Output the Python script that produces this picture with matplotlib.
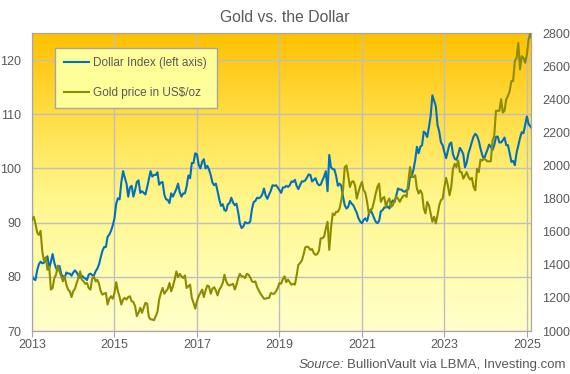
import numpy as np
import matplotlib.pyplot as plt
from matplotlib.colors import LinearSegmentedColormap

plt.rcParams['font.family'] = ['Liberation Sans', 'DejaVu Sans']

# semi-monthly readings, Jan 2013 (1st half) to Feb 2025 (2nd half)
start_year = 2013
dollar_index = [
    # 2013
    80.2, 79.6, 79.4, 81.2, 82.3, 82.8, 82.5, 82.6, 83.2, 83.8, 81.5, 82.8,
    84.2, 82.6, 81.6, 81.2, 82.0, 80.5, 80.1, 79.8, 80.8, 80.6, 80.6, 80.2,
    # 2014
    80.8, 81.2, 80.8, 80.2, 79.8, 80.2, 79.9, 79.7, 79.4, 80.4, 80.6, 80.3,
    80.2, 81.0, 81.5, 82.3, 83.6, 84.8, 85.5, 85.5, 87.4, 87.8, 88.5, 89.5,
    # 2015
    90.8, 93.5, 94.5, 94.3, 97.5, 99.5, 98.3, 97.2, 94.8, 96.5, 96.8, 94.8,
    96.0, 97.5, 97.8, 95.5, 95.8, 95.5, 95.2, 96.5, 98.0, 99.5, 98.5, 98.8,
    # 2016
    98.8, 99.3, 97.0, 97.4, 97.5, 95.2, 94.3, 94.2, 93.6, 95.4, 94.8, 95.5,
    96.2, 97.2, 95.6, 94.8, 95.4, 95.4, 96.7, 98.7, 98.2, 101.0, 101.0, 102.8,
    # 2017
    102.6, 100.7, 100.0, 101.2, 101.7, 100.0, 100.5, 99.8, 98.8, 97.4, 96.9, 97.2,
    95.8, 94.3, 93.1, 93.4, 92.3, 92.2, 93.4, 93.6, 94.6, 93.7, 93.2, 93.5,
    # 2018
    91.9, 89.8, 89.0, 89.3, 90.1, 89.9, 89.9, 90.2, 92.5, 93.8, 94.0, 94.6,
    94.5, 94.7, 95.2, 96.3, 95.0, 94.4, 95.2, 95.9, 96.9, 96.8, 96.9, 96.5,
    # 2019
    96.0, 95.5, 96.5, 96.5, 96.8, 96.6, 96.9, 97.6, 97.5, 97.9, 96.8, 96.2,
    96.9, 97.6, 97.6, 97.8, 98.3, 98.9, 98.8, 97.6, 97.9, 98.2, 97.3, 96.9,
    # 2020
    97.0, 97.8, 98.5, 99.5, 95.8, 102.5, 100.2, 99.9, 99.8, 98.6, 96.8, 97.2,
    96.8, 94.8, 93.2, 92.6, 92.9, 94.0, 93.5, 93.2, 92.5, 91.8, 90.8, 90.2,
    # 2021
    89.9, 90.5, 90.8, 90.3, 91.5, 92.4, 91.7, 90.9, 90.2, 89.9, 90.3, 92.1,
    92.3, 92.8, 92.8, 93.0, 92.6, 93.6, 94.1, 93.8, 95.0, 96.3, 96.1, 96.1,
    # 2022
    95.8, 95.7, 96.0, 96.2, 98.5, 98.5, 99.8, 101.5, 104.0, 102.8, 104.0, 104.3,
    106.8, 106.5, 105.8, 107.6, 109.7, 113.5, 112.5, 111.5, 108.0, 106.8, 104.8, 104.3,
    # 2023
    103.0, 101.9, 103.2, 104.5, 104.8, 102.6, 101.8, 101.6, 102.5, 103.8, 103.3, 102.6,
    100.2, 101.1, 102.8, 103.8, 104.9, 105.9, 106.4, 106.0, 105.1, 103.7, 102.5, 101.7,
    # 2024
    102.6, 103.4, 104.4, 104.0, 103.4, 104.3, 105.8, 105.9, 104.8, 104.8, 105.2, 105.7,
    104.3, 104.3, 102.8, 101.2, 101.4, 100.6, 102.9, 104.2, 105.6, 106.7, 106.5, 108.0,
    # 2025
    109.6, 108.2, 107.8, 107.3,
]

gold_price = [
    # 2013
    1670, 1690, 1650, 1595, 1580, 1605, 1480, 1420, 1445, 1370, 1390, 1250,
    1260, 1320, 1340, 1395, 1360, 1330, 1300, 1330, 1280, 1250, 1240, 1205,
    # 2014
    1240, 1255, 1290, 1320, 1360, 1310, 1300, 1285, 1290, 1260, 1250, 1315,
    1330, 1300, 1310, 1285, 1240, 1220, 1225, 1230, 1160, 1195, 1210, 1195,
    # 2015
    1230, 1295, 1240, 1205, 1160, 1190, 1200, 1190, 1205, 1210, 1180, 1175,
    1150, 1090, 1110, 1140, 1110, 1140, 1170, 1165, 1085, 1070, 1070, 1065,
    # 2016
    1090, 1115, 1190, 1230, 1260, 1225, 1240, 1255, 1290, 1240, 1270, 1310,
    1360, 1325, 1345, 1330, 1320, 1335, 1260, 1270, 1280, 1200, 1170, 1135,
    # 2017
    1180, 1210, 1230, 1250, 1205, 1245, 1275, 1270, 1225, 1255, 1265, 1245,
    1215, 1250, 1265, 1290, 1340, 1300, 1280, 1275, 1280, 1285, 1250, 1280,
    # 2018
    1320, 1345, 1330, 1330, 1320, 1345, 1340, 1325, 1300, 1295, 1300, 1265,
    1245, 1225, 1210, 1195, 1195, 1200, 1200, 1230, 1225, 1225, 1240, 1260,
    # 2019
    1290, 1285, 1315, 1330, 1295, 1310, 1295, 1280, 1285, 1280, 1335, 1400,
    1410, 1425, 1460, 1505, 1510, 1505, 1490, 1495, 1470, 1460, 1465, 1485,
    # 2020
    1560, 1560, 1570, 1620, 1660, 1490, 1620, 1710, 1700, 1720, 1720, 1740,
    1790, 1850, 1990, 2000, 1940, 1870, 1900, 1905, 1880, 1800, 1840, 1875,
    # 2021
    1900, 1850, 1835, 1780, 1710, 1730, 1740, 1780, 1830, 1870, 1890, 1780,
    1800, 1810, 1750, 1785, 1800, 1750, 1760, 1790, 1810, 1800, 1780, 1800,
    # 2022
    1815, 1820, 1810, 1900, 1990, 1930, 1930, 1940, 1860, 1830, 1850, 1830,
    1740, 1710, 1780, 1760, 1710, 1660, 1690, 1650, 1700, 1760, 1790, 1800,
    # 2023
    1870, 1925, 1880, 1820, 1870, 1980, 2010, 1990, 2030, 1960, 1960, 1920,
    1940, 1960, 1930, 1915, 1925, 1870, 1850, 1980, 1960, 2035, 2030, 2040,
    # 2024
    2035, 2025, 2025, 2025, 2150, 2180, 2330, 2330, 2330, 2400, 2320, 2330,
    2400, 2420, 2450, 2510, 2510, 2630, 2650, 2740, 2580, 2660, 2650, 2620,
    # 2025
    2670, 2760, 2800, 2760,
]

x = start_year + np.arange(len(dollar_index)) / 24.0

grey = '#595959'
fig = plt.figure(figsize=(5.70, 3.74), dpi=100)
ax = fig.add_axes([32 / 570, 1 - 331 / 374, (531 - 32) / 570, (331 - 33) / 374])
ax2 = ax.twinx()

# orange-to-pale-yellow background
bg = LinearSegmentedColormap.from_list('bg', [
    (0.0, '#FFC000'), (0.3, '#FFE04A'), (0.55, '#FFF68A'), (0.8, '#FFFDB0'), (1.0, '#FFFFCC')])
ax.imshow(np.linspace(0, 1, 256).reshape(-1, 1), cmap=bg, aspect='auto',
          extent=[0, 1, 0, 1], transform=ax.transAxes, zorder=0)
ax.patch.set_visible(False)

ax.plot(x, dollar_index, color='#0070C0', lw=1.5, label='Dollar Index (left axis)', zorder=3)
ax2.plot(x, gold_price, color='#8C8C00', lw=1.5, label='Gold price in US$/oz', zorder=3)

ax.set_xlim(2013, 2025.1)
ax.set_ylim(70, 125)
ax2.set_ylim(1000, 2800)
ax.set_xticks(range(2013, 2026, 2))
ax.set_yticks(range(70, 121, 10))
ax2.set_yticks(range(1000, 2801, 200))

ax.set_axisbelow(True)
ax.grid(True, color='#BFBFBF', lw=1)
for a in (ax, ax2):
    for s in a.spines.values():
        s.set_color('#A6A6A6')
ax.tick_params(axis='x', length=4, color='#A6A6A6', labelsize=9, labelcolor=grey, pad=2)
ax.tick_params(axis='y', length=0, labelsize=9, labelcolor=grey, pad=8)
ax2.tick_params(axis='y', length=0, labelsize=9, labelcolor=grey, pad=8)

h1, l1 = ax.get_legend_handles_labels()
h2, l2 = ax2.get_legend_handles_labels()
leg = ax2.legend(h1 + h2, l1 + l2, loc='upper left', bbox_to_anchor=(0.046, 0.95),
                 borderaxespad=0, fontsize=8.5, labelcolor=grey, frameon=True, fancybox=False,
                 facecolor='#FFFF99', edgecolor='#A6A6A6', framealpha=1,
                 labelspacing=1.5, handlelength=2.1, handletextpad=0.35, borderpad=0.8)
leg.get_frame().set_linewidth(1)

fig.text(0.5, 1 - 18 / 374, 'Gold vs. the Dollar', ha='center', va='center',
         fontsize=11.3, color=grey)
fig.text(0.992, 1 - 365 / 374, 'BullionVault via LBMA, Investing.com', ha='right', va='center',
         fontsize=9.5, color=grey)
src = fig.text(0, 0, 'Source:', fontsize=9.5, color=grey, style='italic')

fig.canvas.draw()
# place the italic "Source:" right before the regular part
r = fig.texts[1].get_window_extent()
w = src.get_window_extent().width
src.set_position(((r.x0 - w - 3) / fig.bbox.width, 1 - 365 / 374))
src.set_va('center')

fig.savefig('out.png', dpi=100)
